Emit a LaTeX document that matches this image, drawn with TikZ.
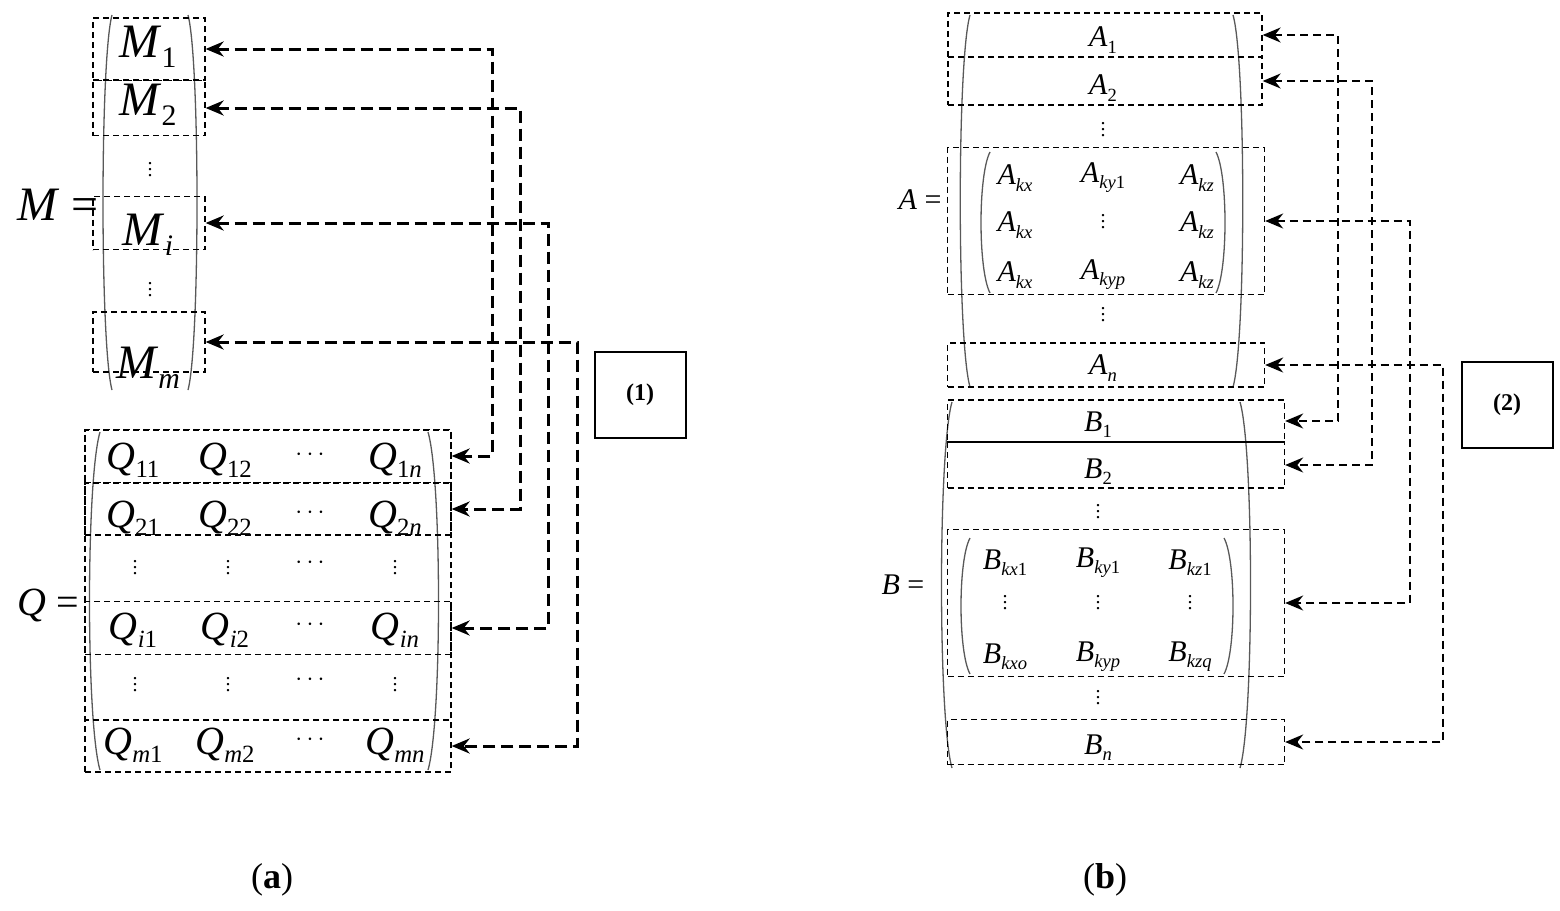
\documentclass[tikz,border=0pt]{standalone}
\usepackage{fontspec}
\setmainfont{Liberation Serif}
\usetikzlibrary{arrows.meta}
\newcommand{\vs}[2]{\textit{#1}\raisebox{-0.45ex}{\fontsize{0.62em}{0.7em}\selectfont #2}}
\tikzset{
  dbox/.style={draw, dash pattern=on 6pt off 4pt, line width=1.3pt, inner sep=0pt},
  link/.style={dash pattern=on 12pt off 6pt, line width=3pt, >={Stealth[length=18pt,width=15pt]}},
  thin link/.style={link, dash pattern=on 8pt off 5pt, line width=2pt},
  entry/.style={font=\fontsize{40}{44}\selectfont, inner sep=0pt},
  small entry/.style={font=\fontsize{30}{34}\selectfont, inner sep=0pt},
  vdots/.style={font=\fontsize{20}{20}\selectfont, inner sep=0pt, align=center},
  paren/.style={line width=1.3pt, gray!70!black}
}
\newcommand{\vd}{.\\[-14pt].\\[-14pt].}
\begin{document}
\begin{tikzpicture}[x=1pt, y=-1pt]
\useasboundingbox (0,0) rectangle (1560,910);

% (a) the M column
\draw[paren] (112,15) .. controls (100,60) and (100,345) .. (112,390);
\draw[paren] (188,15) .. controls (200,60) and (200,345) .. (188,390);
\node[dbox, minimum width=112, minimum height=62] (m1) at (149,49) {};
\node[dbox, minimum width=112, minimum height=55] (m2) at (149,108) {};
\node[dbox, minimum width=112, minimum height=53] (mi) at (149,223) {};
\node[dbox, minimum width=112, minimum height=60] (mm) at (149,342) {};
\node[entry, font=\fontsize{48}{50}\selectfont] at (148,47) {\vs{M}{1}};
\node[entry, font=\fontsize{48}{50}\selectfont] at (148,105) {\vs{M}{2}};
\node[entry, font=\fontsize{48}{50}\selectfont] at (148,235) {\vs{M}{\textit{i}}};
\node[entry, font=\fontsize{48}{50}\selectfont] at (148,368) {\vs{M}{\textit{m}}};
\node[vdots] at (150,170) {\vd};
\node[vdots] at (150,290) {\vd};
\node[entry, font=\fontsize{48}{50}\selectfont] (meq) at (58,205) {\textit{M} =};

% (a) the Q matrix
\draw[paren] (100,432) .. controls (86,480) and (86,722) .. (100,770);
\draw[paren] (428,432) .. controls (442,480) and (442,722) .. (428,770);
\node[dbox, minimum width=366, minimum height=342] (qall) at (268,601) {};
\node[dbox, minimum width=366, minimum height=53] (q1) at (268,456) {};
\node[dbox, minimum width=366, minimum height=52] (q2) at (268,509) {};
\node[dbox, minimum width=366, minimum height=53] (qi) at (268,628) {};
\node[dbox, minimum width=366, minimum height=52] (qm) at (268,746) {};
\foreach \a/\b/\c/\y in {11/12/1\textit{n}/460, 21/22/2\textit{n}/518, \textit{i}1/\textit{i}2/\textit{in}/630, \textit{m}1/\textit{m}2/\textit{mn}/745} {
  \node[entry] at (133,\y) {\vs{Q}{\a}};
  \node[entry] at (225,\y) {\vs{Q}{\b}};
  \node[entry] at (310,\y-5) {$\cdots$};
  \node[entry] at (395,\y) {\vs{Q}{\c}};
}
\foreach \y in {568,685} {
  \foreach \x in {135,228,395} \node[vdots] at (\x,\y) {\vd};
  \node[entry] at (310,\y-5) {$\cdots$};
}
\node[entry] (qeq) at (48,605) {\textit{Q} =};

\coordinate (c1) at (492,456);
\coordinate (c2) at (520,509);
\coordinate (ci) at (548,628);
\coordinate (cm) at (577,746);
\draw[link, <->] (m1.east) -| (c1) -- (q1.east);
\draw[link, <->] (m2.east) -| (c2) -- (q2.east);
\draw[link, <->] (mi.east) -| (ci) -- (qi.east);
\draw[link, <->] (mm.east) -| (cm) -- (qm.east);
\node[draw, line width=2pt, minimum width=91, minimum height=86, font=\bfseries\fontsize{24}{26}\selectfont] (step1) at (640,395) {(1)};
\node[font=\fontsize{36}{40}\selectfont] (capa) at (272,880) {(\textbf{a})};

% (b) the A matrix
\draw[paren] (970,15) .. controls (957,60) and (957,342) .. (970,387);
\draw[paren] (1233,15) .. controls (1246,60) and (1246,342) .. (1233,387);
\node[dbox, minimum width=314, minimum height=44] (a1) at (1105,35) {};
\node[dbox, minimum width=314, minimum height=48] (a2) at (1105,81) {};
\node[dbox, minimum width=317, minimum height=147] (ak) at (1106,221) {};
\node[dbox, minimum width=317, minimum height=44] (an) at (1106,365) {};
\node[small entry] at (1103,40) {\vs{A}{1}};
\node[small entry] at (1103,88) {\vs{A}{2}};
\node[small entry] at (1103,368) {\vs{A}{\textit{n}}};
\node[vdots] at (1103,130) {\vd};
\node[vdots] at (1103,315) {\vd};
\draw[paren] (990,152) .. controls (978,175) and (978,270) .. (990,293);
\draw[paren] (1216,152) .. controls (1228,175) and (1228,270) .. (1216,293);
\foreach \y in {178,225,275} {
  \node[small entry] at (1015,\y) {\vs{A}{\textit{kx}}};
  \node[small entry] at (1197,\y) {\vs{A}{\textit{kz}}};
}
\node[small entry] at (1103,178) {\vs{A}{\textit{ky}1}};
\node[vdots] at (1103,222) {\vd};
\node[small entry] at (1103,275) {\vs{A}{\textit{kyp}}};
\node[small entry] (aeq) at (920,200) {\textit{A} =};

% (b) the B matrix
\draw[paren] (952,402) .. controls (938,450) and (938,720) .. (952,768);
\draw[paren] (1240,402) .. controls (1254,450) and (1254,720) .. (1240,768);
\node[dbox, minimum width=337, minimum height=42] (b1) at (1116,421) {};
\node[dbox, minimum width=337, minimum height=46] (b2) at (1116,465) {};
\node[dbox, minimum width=337, minimum height=147] (bk) at (1116,603) {};
\node[dbox, minimum width=337, minimum height=45] (bn) at (1116,742) {};
\node[small entry] at (1098,425) {\vs{B}{1}};
\node[small entry] at (1098,472) {\vs{B}{2}};
\node[small entry] at (1098,748) {\vs{B}{\textit{n}}};
\node[vdots] at (1098,512) {\vd};
\node[vdots] at (1098,698) {\vd};
\draw[paren] (970,538) .. controls (958,560) and (958,652) .. (970,674);
\draw[paren] (1224,538) .. controls (1236,560) and (1236,652) .. (1224,674);
\node[small entry] at (1005,563) {\vs{B}{\textit{kx}1}};
\node[small entry] at (1098,563) {\vs{B}{\textit{ky}1}};
\node[small entry] at (1190,563) {\vs{B}{\textit{kz}1}};
\foreach \x in {1005,1098,1190} \node[vdots] at (\x,603) {\vd};
\node[small entry] at (1005,657) {\vs{B}{\textit{kxo}}};
\node[small entry] at (1098,657) {\vs{B}{\textit{kyp}}};
\node[small entry] at (1190,657) {\vs{B}{\textit{kzq}}};
\node[small entry] (beq) at (903,585) {\textit{B} =};

\coordinate (d1) at (1338,421);
\coordinate (d2) at (1372,465);
\coordinate (dk) at (1410,603);
\coordinate (dn) at (1443,742);
\draw[thin link, <->] (a1.east) -| (d1) -- (b1.east);
\draw[thin link, <->] (a2.east) -| (d2) -- (b2.east);
\draw[thin link, <->] (ak.east) -| (dk) -- (bk.east);
\draw[thin link, <->] (an.east) -| (dn) -- (bn.east);
\node[draw, line width=2pt, minimum width=91, minimum height=86, font=\bfseries\fontsize{24}{26}\selectfont] (step2) at (1507,405) {(2)};
\node[font=\fontsize{36}{40}\selectfont] (capb) at (1105,880) {(\textbf{b})};
\end{tikzpicture}
\end{document}
